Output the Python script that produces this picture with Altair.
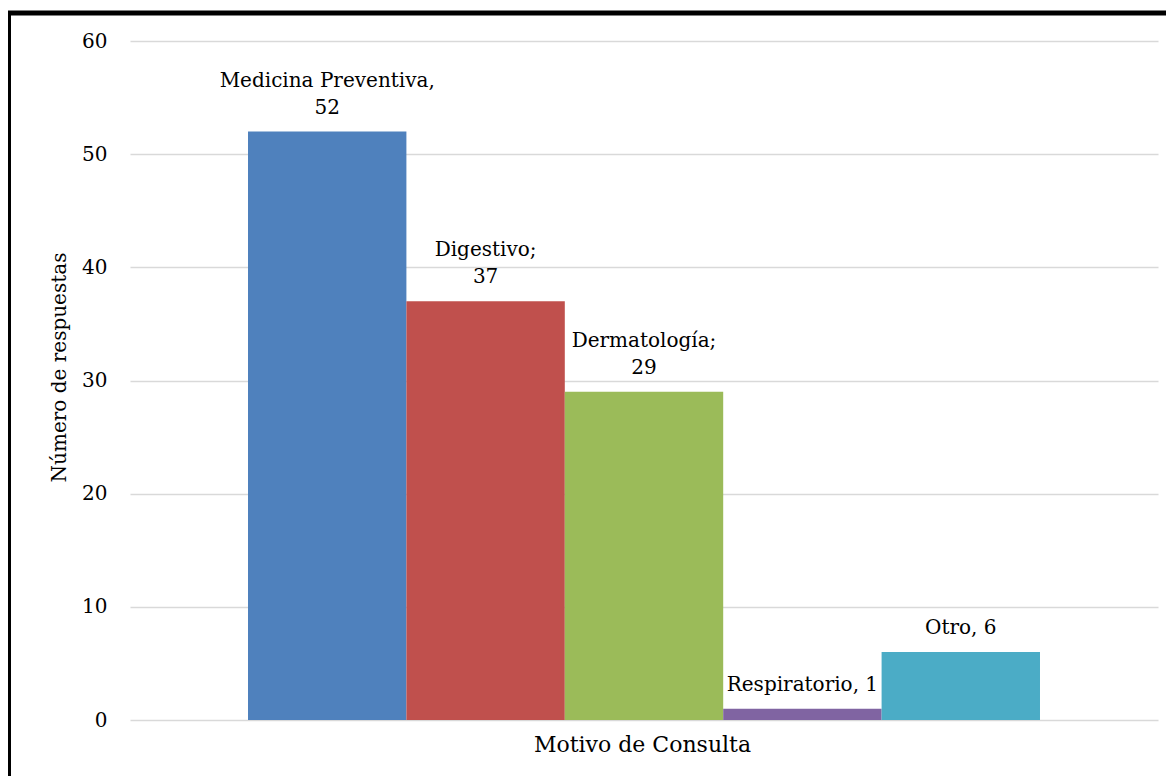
import altair as alt
import pandas as pd

series = ["Medicina Preventiva", "Digestivo", "Dermatología", "Respiratorio", "Otro"]
values = [52, 37, 29, 1, 6]
label_top = ["Medicina Preventiva,", "Digestivo;", "Dermatología;", "", ""]
label_bottom = ["52", "37", "29", "Respiratorio, 1", "Otro, 6"]
colors = ["#4F81BD", "#C0504D", "#9BBB59", "#8064A2", "#4BACC6"]
y_ticks = [0, 10, 20, 30, 40, 50, 60]

df = pd.DataFrame({"serie": series, "valor": values,
                   "sup": label_top, "inf": label_bottom})

FONT = "DejaVu Serif"

x_enc = alt.X(
    "serie:N",
    sort=series,
    scale=alt.Scale(paddingInner=0, paddingOuter=0.745),
    axis=alt.Axis(
        labels=False, ticks=False, domain=False, grid=False,
        title="Motivo de Consulta", titleFontSize=22, titleFont=FONT,
        titleFontWeight="normal", titleColor="black",
        titleY=24, titleBaseline="middle", titleX=512, titleAlign="center",
    ),
)

bars = alt.Chart(df).mark_bar().encode(
    x=x_enc,
    y=alt.Y(
        "valor:Q",
        scale=alt.Scale(domain=[0, 60], nice=False),
        axis=alt.Axis(
            values=y_ticks, domain=False, ticks=False, labelPadding=23,
            labelFontSize=20, labelFont=FONT, labelColor="black",
            gridColor="#d9d9d9", gridWidth=1.5,
            title="Número de respuestas", titleFontSize=20, titleFont=FONT,
            titleFontWeight="normal", titleColor="black",
            titleX=-71, titleY=326, titleAngle=-90,
            titleBaseline="middle", titleAlign="center",
        ),
    ),
    color=alt.Color("serie:N", sort=series,
                    scale=alt.Scale(domain=series, range=colors), legend=None),
)

text_inf = alt.Chart(df).mark_text(
    baseline="bottom", dy=-14, fontSize=20, font=FONT,
    color="black", align="center",
).encode(
    x=alt.X("serie:N", sort=series),
    y=alt.Y("valor:Q"),
    text="inf:N",
)

text_sup = alt.Chart(df).mark_text(
    baseline="bottom", dy=-41, fontSize=20, font=FONT,
    color="black", align="center",
).encode(
    x=alt.X("serie:N", sort=series),
    y=alt.Y("valor:Q"),
    text="sup:N",
)

border = alt.Chart(pd.DataFrame({"b": [0]})).mark_rect(
    fill=None, stroke="black", strokeWidth=5, fillOpacity=0,
).encode(
    x=alt.value(-121.5), x2=alt.value(1080),
    y=alt.value(-28), y2=alt.value(780),
)

chart = alt.layer(bars, text_inf, text_sup, border).properties(
    width=1028, height=679,
    autosize=alt.AutoSizeParams(type="none"),
    padding={"left": 122, "top": 33, "right": 8, "bottom": 56},
).configure(font=FONT).configure_view(stroke=None)

chart.save("out.html", embed_options={"renderer": "svg", "actions": False})
